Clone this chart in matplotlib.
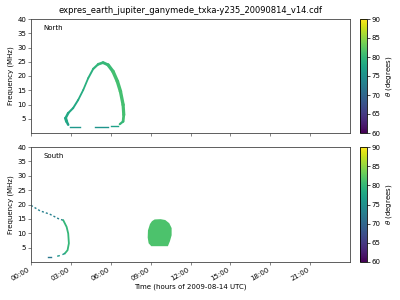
import numpy as np
import matplotlib
matplotlib.use("Agg")
import matplotlib.pyplot as plt
from matplotlib.collections import LineCollection
from matplotlib.colors import Normalize

# North loop (hours, MHz, theta deg)
north_t = [2.8, 2.68, 2.6, 2.8, 3.17, 3.55, 3.93, 4.3, 4.68, 5.05, 5.42, 5.8, 6.17, 6.5, 6.73, 6.93, 6.98, 6.93, 6.68]
north_f = [2.9, 4.05, 5.2, 7.0, 8.75, 11.6, 15.1, 19.2, 22.5, 24.1, 24.7, 23.9, 21.6, 18.1, 14.6, 9.9, 6.4, 4.05, 3.1]
north_theta = [77, 78, 78, 78, 78, 78.5, 79, 79, 79.5, 80, 80, 80.5, 81, 81, 81, 81, 81, 80, 78]
north_width = [1.8, 2.2, 1.8, 1.5, 1.4, 1.3, 1.3, 1.4, 1.6, 1.9, 2.1, 2.4, 2.5, 2.5, 2.4, 2.3, 2.0, 1.6]
north_dash_t0 = [2.93, 4.8, 6.05]
north_dash_t1 = [3.68, 5.8, 6.55]
north_dash_f = [2.2, 2.2, 2.4]
north_dash_theta = [76, 75.5, 77]

# South arc
south_dot_t = [0.0, 0.68, 1.43, 2.05, 2.43]
south_dot_f = [19.7, 17.8, 16.6, 15.1, 14.5]
south_t = [2.43, 2.68, 2.8, 2.85, 2.75, 2.55]
south_f = [14.5, 12.2, 9.9, 6.5, 4.1, 3.0]
south_low_t = [2.55, 2.3, 1.97]
south_low_f = [3.0, 2.4, 2.0]
south_dash_t = [1.3, 1.5]
south_dash_f = [1.7, 1.7]

# South blob
blob_t = [9.3, 9.75, 10.1, 10.4, 10.58, 10.58, 10.45, 10.3, 9.05, 8.85, 8.78, 8.8, 8.95, 9.1]
blob_f = [14.8, 14.9, 14.6, 13.5, 11.8, 9.3, 7.2, 5.5, 5.5, 6.5, 8.5, 11.0, 13.2, 14.2]
blob_theta = 81.5

cmap = plt.get_cmap("viridis")
norm = Normalize(vmin=60, vmax=90)

fig = plt.figure(figsize=(4, 3), dpi=100)
ax1 = fig.add_axes([31/400, 1-133/300, 319/400, 114/300])
ax2 = fig.add_axes([31/400, 1-262/300, 319/400, 115/300])
cax1 = fig.add_axes([360/400, 1-133/300, 7/400, 114/300])
cax2 = fig.add_axes([360/400, 1-262/300, 7/400, 115/300])

pts = np.column_stack([north_t, north_f])
segs = np.stack([pts[:-1], pts[1:]], axis=1)
lc = LineCollection(segs, cmap=cmap, norm=norm, linewidths=north_width, capstyle="round")
lc.set_array(np.array(north_theta[:-1]))
ax1.add_collection(lc)
for t0, t1, f, th in zip(north_dash_t0, north_dash_t1, north_dash_f, north_dash_theta):
    ax1.plot([t0, t1], [f, f], color=cmap(norm(th)), lw=1)

ax2.plot(south_dot_t, south_dot_f, color=cmap(norm(73)), lw=1, linestyle=(0, (1.5, 1.5)))
ax2.plot(south_t, south_f, color=cmap(norm(80)), lw=1.3)
ax2.plot(south_low_t, south_low_f, color=cmap(norm(76)), lw=1, linestyle=(0, (2, 2)))
ax2.plot(south_dash_t, south_dash_f, color=cmap(norm(72)), lw=1)
ax2.fill(blob_t, blob_f, color=cmap(norm(blob_theta)), lw=0)

for ax, name in [(ax1, "North"), (ax2, "South")]:
    ax.set_xlim(0, 24)
    ax.set_ylim(0, 40)
    ax.set_yticks([5, 10, 15, 20, 25, 30, 35, 40])
    ax.set_xticks(np.arange(0, 24, 3))
    ax.set_ylabel("Frequency (MHz)", fontsize=5, labelpad=2)
    ax.tick_params(labelsize=5, length=2, width=0.5, pad=1.5, color="#555555")
    for s in ax.spines.values():
        s.set_linewidth(0.6)
        s.set_color("#444444")
    ax.text(0.04, 0.9, name, transform=ax.transAxes, fontsize=5)

ax1.set_xticklabels([])
ax2.set_xticklabels(["%02d:00" % h for h in range(0, 24, 3)], rotation=30, ha="right")
ax2.set_xlabel("Time (hours of 2009-08-14 UTC)", fontsize=5, labelpad=1)
ax1.set_title("expres_earth_jupiter_ganymede_txka-y235_20090814_v14.cdf", fontsize=6, pad=4)

sm = plt.cm.ScalarMappable(norm=norm, cmap=cmap)
for cax in (cax1, cax2):
    cb = fig.colorbar(sm, cax=cax)
    cb.set_ticks([60, 65, 70, 75, 80, 85, 90])
    cb.ax.tick_params(labelsize=5, length=2, width=0.5, pad=1.5)
    cb.set_label(r"$\theta$ (degrees)", fontsize=5, labelpad=2)
    cb.outline.set_linewidth(0.6)

fig.savefig("out.png", dpi=100)
